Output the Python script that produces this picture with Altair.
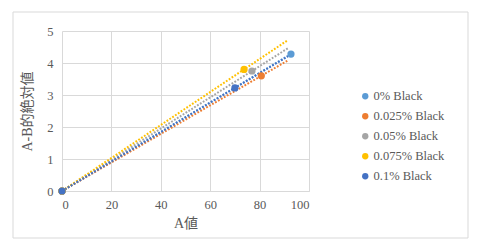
import altair as alt
import pandas as pd

series = ["0% Black", "0.025% Black", "0.05% Black", "0.075% Black", "0.1% Black"]
colors = ["#5B9BD5", "#ED7D31", "#A5A5A5", "#FFC000", "#4472C4"]
a_vals = [92.7, 80.7, 76.9, 73.7, 70.0]
ab_vals = [4.28, 3.60, 3.75, 3.80, 3.22]
origin_a = [0, 0, 0, 0, 0]
origin_ab = [0, 0, 0, 0, 0]
trend_extent = [0, 91.5]
x_ticks = [0, 20, 40, 60, 80, 100]
y_ticks = [0, 1, 2, 3, 4, 5]

rows = []
for i, s in enumerate(series):
    rows.append({"series": s, "A": origin_a[i], "AB": origin_ab[i], "ord": i})
    rows.append({"series": s, "A": a_vals[i], "AB": ab_vals[i], "ord": i})
df = pd.DataFrame(rows)

FONT = "Liberation Serif"
TFONT = "Liberation Serif, Noto Sans CJK JP"
GREY = "#595959"

x = alt.X("A:Q", scale=alt.Scale(domain=[0, 100]),
          axis=alt.Axis(values=x_ticks, title="A値", titlePadding=6))
y = alt.Y("AB:Q", scale=alt.Scale(domain=[0, 5]),
          axis=alt.Axis(values=y_ticks, title="A-B的絶対値", titlePadding=12))
color = alt.Color("series:N", scale=alt.Scale(domain=series, range=colors),
                  legend=alt.Legend(title=None, orient="none", legendX=297, legendY=59,
                                    symbolType="circle", symbolSize=40, rowPadding=7,
                                    labelFontSize=12.5, labelFont=FONT, labelColor=GREY,
                                    labelOffset=2, symbolStrokeWidth=0))

frame = alt.Chart(pd.DataFrame({"k": [0]})).mark_rect(
    fill=None, stroke="#d9d9d9", strokeWidth=1, clip=False
).encode(x=alt.value(-49), x2=alt.value(406), y=alt.value(-19), y2=alt.value(207))

lines = alt.Chart(df).transform_regression(
    "A", "AB", groupby=["series"], extent=trend_extent
).mark_line(strokeDash=[1.8, 1.6], strokeWidth=2).encode(x=x, y=y, color=color)

points = alt.Chart(df).mark_circle(size=52, opacity=1).encode(
    x=x, y=y, color=color, order=alt.Order("ord:Q")
)

chart = alt.layer(frame, lines, points).properties(
    width=247, height=160,
    autosize=alt.AutoSizeParams(type="none"),
    padding={"left": 62, "top": 31, "right": 168, "bottom": 61},
    background="white",
).configure_view(stroke=None).configure_axis(
    grid=True, gridColor="#d9d9d9", domain=False, ticks=False,
    labelFont=FONT, labelFontSize=12.5, labelColor=GREY,
    titleFont=TFONT, titleFontSize=14, titleColor=GREY, titleFontWeight="normal",
    labelPadding=9
).configure_axisX(domain=True, domainColor="#d9d9d9", labelPadding=7)

chart.save("out.html", embed_options={"renderer": "svg", "actions": False})
